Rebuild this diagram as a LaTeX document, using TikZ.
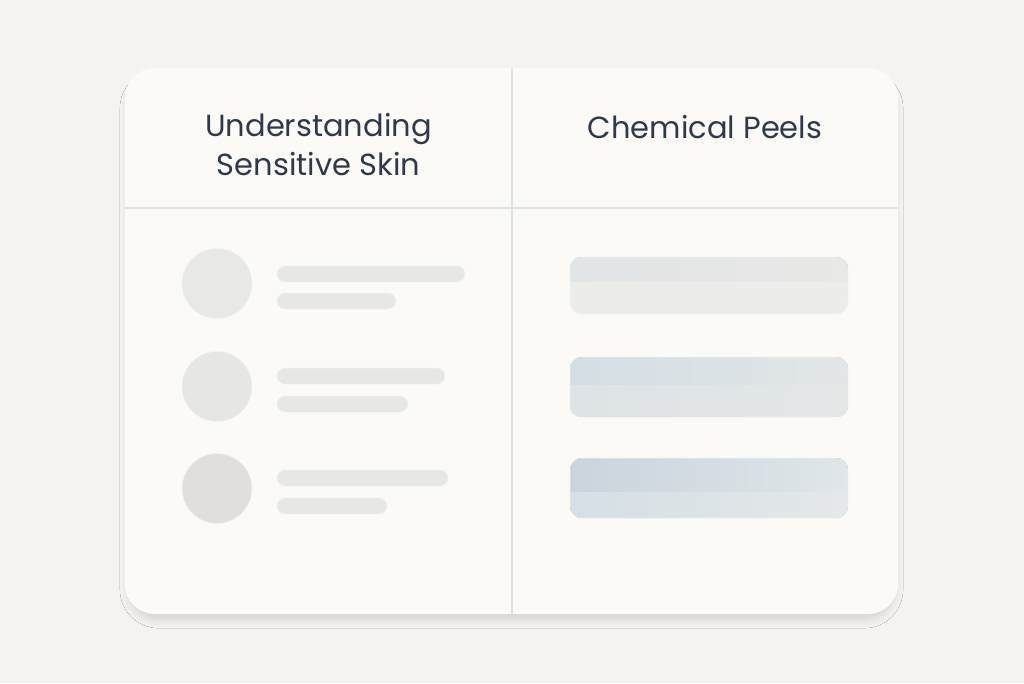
\documentclass[tikz,border=0pt]{standalone}
\usepackage{fontspec}
\setmainfont{Poppins}
\usetikzlibrary{shadows.blur}
\definecolor{pagebg}{HTML}{F5F3F0}
\definecolor{cardbg}{HTML}{FCFAF6}
\definecolor{rule}{HTML}{DCE2E6}
\definecolor{ink}{HTML}{2E3A4B}
\definecolor{dotA}{HTML}{E8E8E6}
\definecolor{dotB}{HTML}{E6E6E4}
\definecolor{dotC}{HTML}{E0DFDD}
\definecolor{lineA}{HTML}{E7E7E5}
\tikzset{
  >=latex,
}
\tikzstyle{card}=[fill=cardbg,rounded corners=30pt,
  blur shadow={shadow xshift=0pt,shadow yshift=-8pt,shadow blur radius=9pt,shadow opacity=14,shadow scale=0.99}]
\tikzstyle{divider}=[draw=rule,line width=1.2pt]
\tikzstyle{heading}=[text=ink,font=\fontsize{30.5}{39}\selectfont,align=center]
\tikzstyle{avatar}=[draw=black!5,line width=0.6pt]
\tikzstyle{textline}=[fill=lineA,draw=black!5,line width=0.5pt,rounded corners=8pt]
\tikzstyle{peel}=[rounded corners=12pt]

\begin{document}
\begin{tikzpicture}[x=1pt,y=-1pt]
    \useasboundingbox[fill=pagebg] (0,0) rectangle (1024,683);
    \path[card] (125,68) rectangle (898,614);
    \draw[divider] (125,208)--(898,208);
    \draw[divider] (512,68)--(512,614);
    \node[heading] (left) at (318.5,145) {Understanding\\Sensitive Skin};
    \node[heading] (right) at (705,127) {Chemical Peels};
    % left column
    \fill[dotA] (217,283.5) circle (35);
    \draw[avatar] (217,283.5) circle (35);
    \fill[dotB] (217,386.5) circle (35);
    \draw[avatar] (217,386.5) circle (35);
    \fill[dotC] (217,488.5) circle (35);
    \draw[avatar] (217,488.5) circle (35);
    \path[textline] (277,266) rectangle (465,282);
    \path[textline] (277,293) rectangle (396,309);
    \path[textline] (277,368) rectangle (445,384);
    \path[textline] (277,396) rectangle (408,412);
    \path[textline] (277,470) rectangle (448,486);
    \path[textline] (277,498) rectangle (387,514);
    % right column
    \begin{scope}
      \clip[peel] (570,257) rectangle (848,314);
      \fill[left color={rgb,255:red,226;green,229;blue,230},right color={rgb,255:red,232;green,232;blue,230}] (570,257) rectangle (848,282);
      \fill[color={rgb,255:red,236;green,236;blue,234}] (570,282) rectangle (848,314);
    \end{scope}
    \draw[peel,draw=black!6,line width=0.5pt] (570,257) rectangle (848,314);
    \begin{scope}
      \clip[peel] (570,357) rectangle (848,417);
      \fill[left color={rgb,255:red,211;green,222;blue,228},right color={rgb,255:red,227;green,230;blue,230}] (570,357) rectangle (848,385);
      \fill[left color={rgb,255:red,222;green,227;blue,229},right color={rgb,255:red,229;green,231;blue,231}] (570,385) rectangle (848,417);
    \end{scope}
    \draw[peel,draw=black!6,line width=0.5pt] (570,357) rectangle (848,417);
    \begin{scope}
      \clip[peel] (570,458) rectangle (848,518);
      \fill[left color={rgb,255:red,201;green,212;blue,220},right color={rgb,255:red,224;green,230;blue,233}] (570,458) rectangle (848,492);
      \fill[left color={rgb,255:red,213;green,223;blue,229},right color={rgb,255:red,229;green,232;blue,232}] (570,492) rectangle (848,518);
    \end{scope}
    \draw[peel,draw=black!6,line width=0.5pt] (570,458) rectangle (848,518);
  \end{tikzpicture}
\end{document}
